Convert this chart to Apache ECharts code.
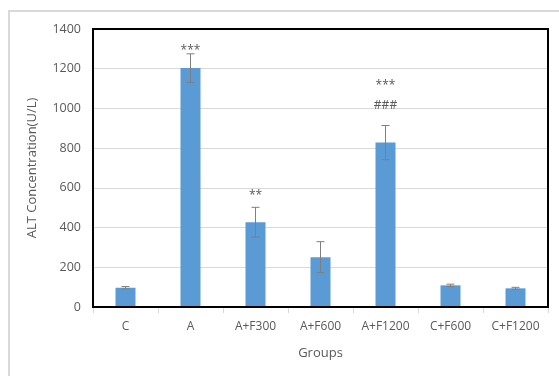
<!DOCTYPE html>
<html><head><meta charset="utf-8">
<script src="https://cdn.jsdelivr.net/npm/echarts@6/dist/echarts.min.js"></script>
<style>html,body{margin:0;padding:0;background:#fff}#c{width:559px;height:376px}</style>
</head><body><div id="c"></div>
<script>
const categories = ['C', 'A', 'A+F300', 'A+F600', 'A+F1200', 'C+F600', 'C+F1200'];
const values = [97, 1203, 427, 251, 828, 109, 94];
const errors = [6, 72, 75, 78, 86, 6, 5];
const sigStars = ['', '***', '**', '', '***', '', ''];
const sigStarsAt = [null, 1306, 578, null, 1128, null, null];
const sigHash = ['', '', '', '', '###', '', ''];
const sigHashAt = [null, null, null, null, 1014, null, null];
const yTicks = [0, 200, 400, 600, 800, 1000, 1200, 1400];

const font = 'Open Sans';
const G = { left: 93, top: 29, right: 11, bottom: 69 };
const W = 559, H = 376;
const chart = echarts.init(document.getElementById('c'));
chart.setOption({
  animation: false,
  backgroundColor: '#fff',
  graphic: [
    { type: 'rect', shape: { x: 9, y: 11, width: 560, height: 380 }, style: { fill: 'none', stroke: '#d9d9d9', lineWidth: 2 }, z: -1 },
    { type: 'rect', shape: { x: G.left, y: G.top, width: W - G.left - G.right, height: H - G.top - G.bottom }, style: { fill: 'none', stroke: '#000', lineWidth: 2 }, z: 10 }
  ],
  grid: { left: G.left, top: G.top, right: G.right, bottom: G.bottom },
  xAxis: {
    type: 'category', data: categories,
    name: 'Groups', nameLocation: 'middle', nameGap: 40,
    nameTextStyle: { color: '#595959', fontSize: 13, fontFamily: font },
    axisLine: { show: false },
    axisTick: { show: true, alignWithLabel: false, length: 6, lineStyle: { color: '#d9d9d9' } },
    axisLabel: { color: '#595959', fontSize: 12, fontFamily: font, margin: 14, interval: 0 }
  },
  yAxis: {
    type: 'value', min: yTicks[0], max: yTicks[yTicks.length - 1], interval: 200,
    name: 'ALT Concentration(U/L)', nameLocation: 'middle', nameGap: 54,
    nameTextStyle: { color: '#595959', fontSize: 13, fontFamily: font },
    axisLine: { show: false }, axisTick: { show: false },
    axisLabel: { color: '#595959', fontSize: 12.5, fontFamily: font, margin: 12, formatter: v => String(v) },
    splitLine: { lineStyle: { color: '#d9d9d9', width: 1 } }
  },
  series: [
    { type: 'bar', data: values, barWidth: 20, itemStyle: { color: '#5b9bd5' }, z: 2 },
    {
      type: 'custom', z: 3,
      data: values.map((v, i) => [i, v, errors[i]]),
      renderItem: function (params, api) {
        const i = api.value(0), v = api.value(1), e = api.value(2);
        const hi = api.coord([i, v + e]), lo = api.coord([i, v - e]);
        const x = hi[0], cw = 4;
        const st = { stroke: '#7f7f7f', lineWidth: 1 };
        const ch = [
          { type: 'line', shape: { x1: x, y1: hi[1], x2: x, y2: lo[1] }, style: st },
          { type: 'line', shape: { x1: x - cw, y1: hi[1], x2: x + cw, y2: hi[1] }, style: st },
          { type: 'line', shape: { x1: x - cw, y1: lo[1], x2: x + cw, y2: lo[1] }, style: st }
        ];
        if (sigStars[i]) {
          const p = api.coord([i, sigStarsAt[i]]);
          ch.push({ type: 'text', style: { text: sigStars[i], x: x, y: p[1] + 3, align: 'center', verticalAlign: 'middle', fill: '#595959', font: '12px ' + font } });
        }
        if (sigHash[i]) {
          const p = api.coord([i, sigHashAt[i]]);
          ch.push({ type: 'text', style: { text: sigHash[i], x: x, y: p[1], align: 'center', verticalAlign: 'middle', fill: '#595959', font: '12px ' + font } });
        }
        return { type: 'group', children: ch };
      }
    }
  ]
});
</script></body></html>
